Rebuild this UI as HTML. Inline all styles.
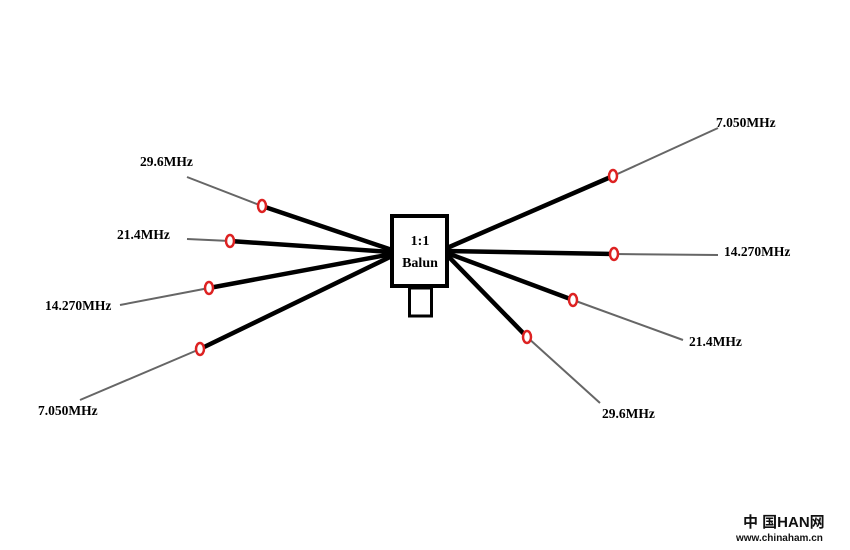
<!DOCTYPE html>
<html><head><style>body{margin:0;background:#fff}</style></head><body>
<svg width="850" height="550" xmlns="http://www.w3.org/2000/svg" style="display:block">
<rect width="850" height="550" fill="#fff"/>
<g stroke="#666" stroke-width="2">
<line x1="187" y1="177" x2="262" y2="206"/>
<line x1="187" y1="239" x2="230" y2="241"/>
<line x1="120" y1="305" x2="209" y2="288"/>
<line x1="80" y1="400" x2="200" y2="349"/>
<line x1="613" y1="176" x2="718" y2="128"/>
<line x1="614" y1="254" x2="718" y2="255"/>
<line x1="573" y1="300" x2="683" y2="340"/>
<line x1="527" y1="337" x2="600" y2="403"/>
</g>
<g stroke="#000" stroke-width="4.5">
<line x1="262" y1="206" x2="392" y2="250"/>
<line x1="230" y1="241" x2="392" y2="252"/>
<line x1="209" y1="288" x2="392" y2="254"/>
<line x1="200" y1="349" x2="392" y2="256"/>
<line x1="447" y1="248" x2="613" y2="176"/>
<line x1="447" y1="251" x2="614" y2="254"/>
<line x1="447" y1="253" x2="573" y2="300"/>
<line x1="447" y1="255" x2="527" y2="337"/>
</g>
<g fill="#fff" stroke="#d22" stroke-width="2.5">
<ellipse cx="262" cy="206" rx="4" ry="6"/>
<ellipse cx="230" cy="241" rx="4" ry="6"/>
<ellipse cx="209" cy="288" rx="4" ry="6"/>
<ellipse cx="200" cy="349" rx="4" ry="6"/>
<ellipse cx="613" cy="176" rx="4" ry="6"/>
<ellipse cx="614" cy="254" rx="4" ry="6"/>
<ellipse cx="573" cy="300" rx="4" ry="6"/>
<ellipse cx="527" cy="337" rx="4" ry="6"/>
</g>
<rect x="392" y="216" width="55" height="70" fill="#fff" stroke="#000" stroke-width="4"/>
<rect x="409.5" y="288" width="22" height="28" fill="#fff" stroke="#000" stroke-width="3"/>
<g font-family="Liberation Serif, serif" font-weight="bold" font-size="13.5" fill="#000">
<text x="420" y="245" text-anchor="middle" font-size="14">1:1</text>
<text x="420" y="267" text-anchor="middle" font-size="14">Balun</text>
<text x="140" y="166">29.6MHz</text>
<text x="117" y="239">21.4MHz</text>
<text x="45" y="310">14.270MHz</text>
<text x="38" y="415">7.050MHz</text>
<text x="716" y="127">7.050MHz</text>
<text x="724" y="256">14.270MHz</text>
<text x="689" y="346">21.4MHz</text>
<text x="602" y="418">29.6MHz</text>
</g>
<text x="743" y="527" font-family="Liberation Sans, 'Noto Sans CJK SC', sans-serif" font-weight="bold" font-size="15" fill="#111">中 国HAN网</text>
<text x="736" y="541" font-family="Liberation Sans, sans-serif" font-weight="bold" font-size="10" fill="#111">www.chinaham.cn</text>
</svg>
</body></html>
